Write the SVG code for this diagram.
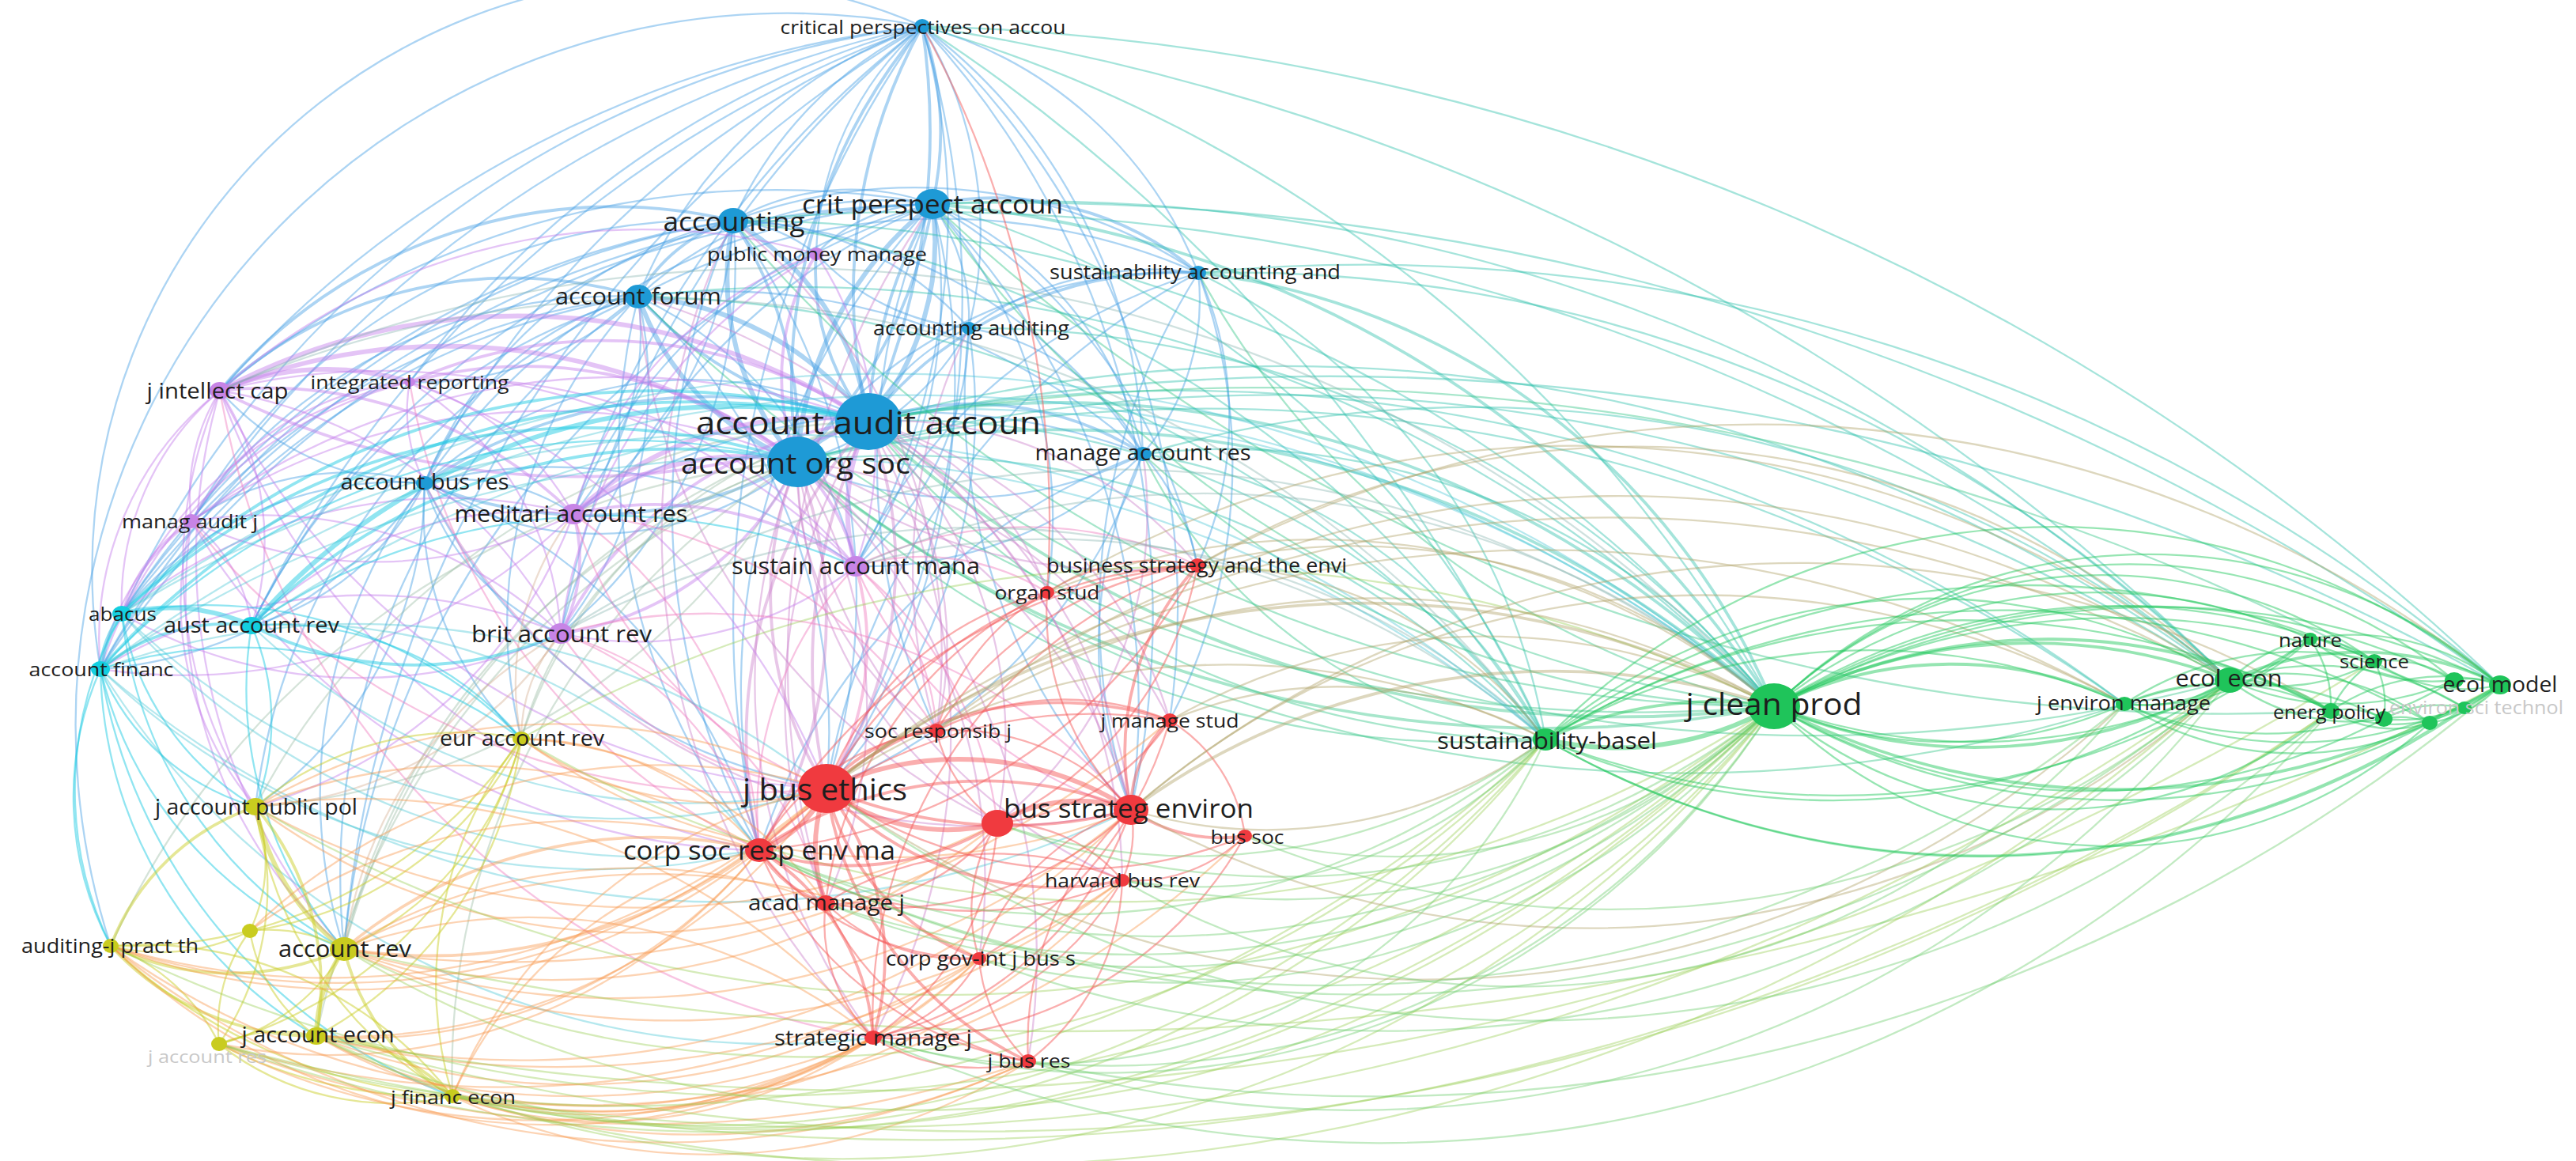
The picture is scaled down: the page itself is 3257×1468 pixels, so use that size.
<svg xmlns="http://www.w3.org/2000/svg" width="3257" height="1468" viewBox="0 0 3257 1468">
<style>
.e path{fill:none;stroke-width:2.3;stroke-linecap:round}
.eb path{stroke:rgba(70,160,228,.45)}
.ebg path{stroke:rgba(40,190,170,.42)}
.ebgg path{stroke:rgba(45,195,130,.42)}
.ebr path{stroke:rgba(205,130,205,.45)}
.eby path{stroke:rgba(150,185,160,.4)}
.ep path{stroke:rgba(195,125,235,.45)}
.erp path{stroke:rgba(240,125,190,.45)}
.epy path{stroke:rgba(210,170,140,.4)}
.epg path{stroke:rgba(130,175,170,.38)}
.ec path{stroke:rgba(25,200,225,.48)}
.ecx path{stroke:rgba(60,195,210,.38)}
.ey path{stroke:rgba(200,205,35,.48)}
.ery path{stroke:rgba(248,150,75,.42)}
.eyg path{stroke:rgba(150,205,80,.4)}
.er path{stroke:rgba(245,85,85,.48)}
.erg path{stroke:rgba(175,160,100,.42)}
.egl path{stroke:rgba(110,205,110,.42)}
.eg path{stroke:rgba(35,200,95,.48)}
.e path.m{stroke-width:3.8}
.e path.k{stroke-width:6}
.nb{fill:#1e9ad6}.np{fill:#c784e6}.nc{fill:#14cfe0}.ny{fill:#c9cc1f}.nr{fill:#f03a3f}.ng{fill:#1fc45a}
text{font-family:"Open Sans","Liberation Sans",sans-serif;fill:#1e1e1e;text-anchor:middle;dominant-baseline:central}
text.f{fill:#c8c8c8}
</style>
<rect width="3257" height="1468" fill="#fff"/>
<g id="connectors" class="e">
<g class="eb">
<path class="m" d="M1166 33A400 400 0 0 1 1179 258"/>
<path d="M1166 33A500 500 0 0 0 927 279"/>
<path d="M1166 33A600 600 0 0 0 807 375"/>
<path d="M1166 33A500 500 0 0 1 1225 415"/>
<path d="M1166 33A520 520 0 0 1 1515 345"/>
<path d="M1166 33A700 700 0 0 1 1445 574"/>
<path class="m" d="M1166 33A700 700 0 0 0 1098 533"/>
<path class="m" d="M1166 33A900 900 0 0 1 1098 533"/>
<path class="m" d="M1166 33A700 700 0 0 0 1008 584"/>
<path d="M1166 33A400 400 0 0 0 1032 321"/>
<path d="M1166 33A1400 1400 0 0 0 278 494"/>
<path d="M1166 33A1300 1300 0 0 0 154 776"/>
<path d="M1166 33A750 750 0 0 0 127 846"/>
<path d="M1166 33A1500 1500 0 0 0 242 659"/>
<path d="M1166 33A1200 1200 0 0 0 537 611"/>
<path d="M1166 33A1300 1300 0 0 0 725 650"/>
<path d="M1166 33A900 900 0 0 1 1082 716"/>
<path d="M1166 33A1300 1300 0 0 0 709 801"/>
<path d="M1166 33A1200 1200 0 0 1 1045 997"/>
<path d="M1166 33A1300 1300 0 0 0 960 1075"/>
<path d="M1166 33A1100 1100 0 0 1 1430 1024"/>
<path d="M1166 33A900 900 0 0 0 140 1196"/>
<path d="M1166 33A1500 1500 0 0 0 318 791"/>
<path d="M1166 33A1500 1500 0 0 0 435 1200"/>
<path d="M1166 33A1000 1000 0 0 1 1479 911"/>
<path d="M1166 33A1200 1200 0 0 0 518 483"/>
<path d="M1179 258A300 300 0 0 0 927 279"/>
<path d="M1179 258A450 450 0 0 0 807 375"/>
<path d="M1179 258A250 250 0 0 1 1225 415"/>
<path class="m" d="M1179 258A400 400 0 0 1 1515 345"/>
<path d="M1179 258A200 200 0 0 0 1032 321"/>
<path class="k" d="M1179 258A350 350 0 0 1 1098 533"/>
<path class="m" d="M1179 258A600 600 0 0 0 1098 533"/>
<path class="k" d="M1179 258A450 450 0 0 0 1008 584"/>
<path class="m" d="M1179 258A600 600 0 0 1 1008 584"/>
<path d="M1179 258A450 450 0 0 1 1445 574"/>
<path d="M1179 258A800 800 0 0 0 537 611"/>
<path d="M1179 258A1100 1100 0 0 0 278 494"/>
<path d="M1179 258A650 650 0 0 0 725 650"/>
<path d="M1179 258A600 600 0 0 1 1082 716"/>
<path d="M1179 258A800 800 0 0 0 709 801"/>
<path d="M1179 258A900 900 0 0 1 1045 997"/>
<path d="M1179 258A900 900 0 0 0 960 1075"/>
<path d="M1179 258A900 900 0 0 1 1430 1024"/>
<path d="M1179 258A1300 1300 0 0 0 154 776"/>
<path d="M1179 258A1300 1300 0 0 0 127 846"/>
<path d="M1179 258A600 600 0 0 1 1324 749"/>
<path d="M1179 258A800 800 0 0 0 1184 924"/>
<path d="M1179 258A1100 1100 0 0 0 435 1200"/>
<path d="M1179 258A700 700 0 0 1 1514 715"/>
<path class="m" d="M927 279A200 200 0 0 0 807 375"/>
<path d="M927 279A200 200 0 0 1 1032 321"/>
<path class="k" d="M927 279A350 350 0 0 1 1098 533"/>
<path class="k" d="M927 279A350 350 0 0 0 1008 584"/>
<path class="m" d="M927 279A650 650 0 0 0 278 494"/>
<path d="M927 279A550 550 0 0 0 537 611"/>
<path d="M927 279A1100 1100 0 0 0 154 776"/>
<path d="M927 279A1100 1100 0 0 0 127 846"/>
<path d="M927 279A1000 1000 0 0 0 318 791"/>
<path d="M927 279A500 500 0 0 1 725 650"/>
<path d="M927 279A600 600 0 0 1 709 801"/>
<path d="M927 279A750 750 0 0 0 242 659"/>
<path d="M927 279A650 650 0 0 1 1515 345"/>
<path d="M927 279A650 650 0 0 1 1445 574"/>
<path d="M927 279A800 800 0 0 1 1045 997"/>
<path d="M927 279A900 900 0 0 0 960 1075"/>
<path d="M927 279A400 400 0 0 1 1225 415"/>
<path class="m" d="M807 375A550 550 0 0 0 278 494"/>
<path d="M807 375A400 400 0 0 0 537 611"/>
<path d="M807 375A650 650 0 0 0 242 659"/>
<path d="M807 375A350 350 0 0 1 725 650"/>
<path d="M807 375A500 500 0 0 1 709 801"/>
<path d="M807 375A900 900 0 0 0 154 776"/>
<path d="M807 375A800 800 0 0 0 318 791"/>
<path d="M807 375A950 950 0 0 0 127 846"/>
<path d="M807 375A500 500 0 0 1 1082 716"/>
<path d="M807 375A400 400 0 0 1 518 483"/>
<path d="M807 375A800 800 0 0 0 323 1020"/>
<path d="M807 375A600 600 0 0 0 659 934"/>
<path class="k" d="M807 375A400 400 0 0 1 1098 533"/>
<path class="k" d="M807 375A350 350 0 0 0 1008 584"/>
<path d="M807 375A800 800 0 0 1 1515 345"/>
<path d="M807 375A800 800 0 0 1 1445 574"/>
<path d="M807 375A750 750 0 0 1 1045 997"/>
<path d="M807 375A800 800 0 0 0 960 1075"/>
<path d="M807 375A900 900 0 0 0 435 1200"/>
<path d="M1515 345A400 400 0 0 0 1225 415"/>
<path d="M1515 345A300 300 0 0 1 1445 574"/>
<path class="m" d="M1515 345A500 500 0 0 0 1098 533"/>
<path d="M1515 345A600 600 0 0 0 1008 584"/>
<path d="M1515 345A450 450 0 0 1 1514 715"/>
<path d="M1515 345A700 700 0 0 1 1479 911"/>
<path d="M1515 345A800 800 0 0 0 1430 1024"/>
<path d="M1515 345A700 700 0 0 0 1082 716"/>
<path d="M1515 345A900 900 0 0 0 1045 997"/>
<path class="m" d="M1445 574A400 400 0 0 0 1098 533"/>
<path d="M1445 574A500 500 0 0 1 1008 584"/>
<path d="M1445 574A300 300 0 0 0 1225 415"/>
<path d="M1445 574A550 550 0 0 0 1430 1024"/>
<path d="M1445 574A700 700 0 0 1 1045 997"/>
<path d="M1445 574A800 800 0 0 0 960 1075"/>
<path d="M1445 574A500 500 0 0 1 1082 716"/>
<path d="M1445 574A300 300 0 0 1 1514 715"/>
<path d="M1445 574A800 800 0 0 0 725 650"/>
<path d="M1225 415A250 250 0 0 0 1098 533"/>
<path d="M1225 415A350 350 0 0 1 1008 584"/>
<path d="M1225 415A300 300 0 0 1 1032 321"/>
<path d="M1225 415A400 400 0 0 1 1082 716"/>
<path d="M1225 415A700 700 0 0 1 1045 997"/>
<path d="M1225 415A750 750 0 0 0 1430 1024"/>
<path class="m" d="M537 611A650 650 0 0 1 1098 533"/>
<path class="m" d="M537 611A550 550 0 0 0 1008 584"/>
<path d="M537 611A350 350 0 0 1 278 494"/>
<path d="M537 611A350 350 0 0 0 242 659"/>
<path d="M537 611A450 450 0 0 0 154 776"/>
<path d="M537 611A350 350 0 0 1 318 791"/>
<path d="M537 611A550 550 0 0 1 127 846"/>
<path d="M537 611A250 250 0 0 1 725 650"/>
<path d="M537 611A300 300 0 0 0 709 801"/>
<path d="M537 611A700 700 0 0 0 1045 997"/>
<path d="M537 611A700 700 0 0 1 960 1075"/>
<path d="M537 611A650 650 0 0 0 435 1200"/>
<path d="M537 611A500 500 0 0 1 323 1020"/>
<path d="M537 611A400 400 0 0 0 659 934"/>
<path d="M537 611A650 650 0 0 1 1082 716"/>
<path class="k" d="M1098 533A150 150 0 0 0 1008 584"/>
<path class="m" d="M1098 533A300 300 0 0 1 1032 321"/>
<path class="m" d="M1098 533A500 500 0 0 1 807 375"/>
<path class="m" d="M1008 584A500 500 0 0 0 927 279"/>
<path d="M1098 533A500 500 0 0 0 537 611"/>
<path d="M1008 584A400 400 0 0 1 537 611"/>
</g>
<g class="ebg">
<path d="M1166 33A1800 1800 0 0 1 2243 893"/>
<path d="M1166 33A2200 2200 0 0 1 1954 935"/>
<path d="M1166 33A3000 3000 0 0 1 2819 860"/>
<path d="M1166 33A3000 3000 0 0 1 3161 866"/>
<path class="m" d="M1179 258A1400 1400 0 0 1 2243 893"/>
<path d="M1179 258A1200 1200 0 0 1 1954 935"/>
<path d="M1179 258A2200 2200 0 0 1 2819 860"/>
<path d="M1179 258A3200 3200 0 0 1 3161 866"/>
<path d="M927 279A1700 1700 0 0 1 2243 893"/>
<path d="M927 279A1400 1400 0 0 1 1954 935"/>
<path d="M927 279A2600 2600 0 0 1 2819 860"/>
<path d="M807 375A1700 1700 0 0 1 2243 893"/>
<path d="M807 375A1500 1500 0 0 1 1954 935"/>
<path class="m" d="M1515 345A900 900 0 0 1 2243 893"/>
<path d="M1515 345A800 800 0 0 1 1954 935"/>
<path d="M1515 345A1800 1800 0 0 1 2819 860"/>
<path d="M1515 345A2200 2200 0 0 1 3161 866"/>
<path d="M1445 574A900 900 0 0 1 2243 893"/>
<path d="M1445 574A700 700 0 0 1 1954 935"/>
<path d="M1445 574A1500 1500 0 0 1 2819 860"/>
<path d="M1225 415A1300 1300 0 0 1 2243 893"/>
<path class="m" d="M1098 533A1250 1250 0 0 1 2243 893"/>
<path d="M1098 533A1000 1000 0 0 1 1954 935"/>
<path d="M1098 533A2000 2000 0 0 1 2819 860"/>
<path d="M1098 533A2000 2000 0 0 1 2686 890"/>
<path d="M1098 533A3000 3000 0 0 1 3161 866"/>
<path class="m" d="M1008 584A1350 1350 0 0 1 2243 893"/>
<path d="M1008 584A1100 1100 0 0 1 1954 935"/>
<path d="M1008 584A2200 2200 0 0 1 2819 860"/>
<path d="M1008 584A2000 2000 0 0 1 2686 890"/>
</g>
<g class="ebgg">
<path class="m" d="M2243 893A1400 1400 0 0 1 1098 533"/>
<path class="m" d="M2243 893A1500 1500 0 0 1 1008 584"/>
<path d="M2243 893A1200 1200 0 0 1 1445 574"/>
<path d="M2243 893A1500 1500 0 0 1 1179 258"/>
<path d="M2243 893A1700 1700 0 0 1 927 279"/>
<path d="M2243 893A1800 1800 0 0 1 807 375"/>
<path d="M2243 893A1100 1100 0 0 1 1515 345"/>
<path d="M1954 935A650 650 0 0 1 1445 574"/>
<path d="M1954 935A1100 1100 0 0 1 1098 533"/>
<path d="M1954 935A1200 1200 0 0 1 1008 584"/>
<path d="M3002 836A3000 3000 0 0 0 1098 533"/>
<path d="M2686 890A1800 1800 0 0 1 1008 584"/>
<path d="M2819 860A2000 2000 0 0 1 1098 533"/>
<path d="M2947 899A2400 2400 0 0 1 1179 258"/>
</g>
<g class="ebr">
<path class="m" d="M1098 533A500 500 0 0 1 1045 997"/>
<path class="m" d="M1098 533A700 700 0 0 0 1045 997"/>
<path class="m" d="M1098 533A600 600 0 0 0 960 1075"/>
<path d="M1098 533A650 650 0 0 1 1430 1024"/>
<path d="M1098 533A450 450 0 0 1 1184 924"/>
<path d="M1098 533A650 650 0 0 0 1044 1142"/>
<path d="M1098 533A800 800 0 0 1 1104 1312"/>
<path d="M1098 533A550 550 0 0 1 1261 1041"/>
<path d="M1098 533A550 550 0 0 1 1479 911"/>
<path d="M1098 533A500 500 0 0 1 1514 715"/>
<path d="M1098 533A350 350 0 0 1 1324 749"/>
<path d="M1098 533A700 700 0 0 1 1419 1113"/>
<path class="m" d="M1008 584A450 450 0 0 0 1045 997"/>
<path class="m" d="M1008 584A550 550 0 0 1 960 1075"/>
<path d="M1008 584A650 650 0 0 1 1430 1024"/>
<path d="M1008 584A400 400 0 0 0 1184 924"/>
<path d="M1008 584A600 600 0 0 1 1044 1142"/>
<path d="M1008 584A750 750 0 0 0 1104 1312"/>
<path d="M1008 584A700 700 0 0 0 1419 1113"/>
<path d="M1008 584A700 700 0 0 1 1238 1212"/>
<path d="M1008 584A550 550 0 0 0 1261 1041"/>
<path d="M1008 584A600 600 0 0 1 1479 911"/>
<path d="M1008 584A800 800 0 0 1 1300 1342"/>
<path d="M1008 584A700 700 0 0 0 1514 715"/>
<path d="M927 279A900 900 0 0 0 1104 1312"/>
<path d="M807 375A900 900 0 0 1 1430 1024"/>
<path d="M1179 258A1000 1000 0 0 0 1044 1142"/>
<path d="M1225 415A700 700 0 0 0 1184 924"/>
<path d="M1445 574A500 500 0 0 1 1261 1041"/>
<path d="M807 375A800 800 0 0 0 1261 1041"/>
<path d="M927 279A700 700 0 0 1 1184 924"/>
<path d="M537 611A800 800 0 0 0 1430 1024"/>
</g>
<g class="eby">
<path d="M1098 533A950 950 0 0 0 435 1200"/>
<path d="M1098 533A600 600 0 0 0 659 934"/>
<path d="M1098 533A900 900 0 0 0 323 1020"/>
<path d="M1008 584A850 850 0 0 0 435 1200"/>
<path d="M1008 584A500 500 0 0 0 659 934"/>
<path d="M1008 584A850 850 0 0 1 323 1020"/>
<path d="M1008 584A1000 1000 0 0 0 400 1310"/>
<path d="M1008 584A1050 1050 0 0 0 140 1196"/>
<path d="M1008 584A900 900 0 0 0 572 1386"/>
</g>
<g class="ep">
<path class="k" d="M278 494A350 350 0 0 1 518 483"/>
<path d="M278 494A250 250 0 0 0 242 659"/>
<path class="m" d="M278 494A550 550 0 0 1 725 650"/>
<path d="M278 494A350 350 0 0 0 154 776"/>
<path d="M278 494A400 400 0 0 0 127 846"/>
<path d="M278 494A350 350 0 0 1 318 791"/>
<path d="M278 494A600 600 0 0 1 709 801"/>
<path d="M278 494A850 850 0 0 1 1082 716"/>
<path class="k" d="M278 494A800 800 0 0 1 1098 533"/>
<path class="k" d="M278 494A750 750 0 0 1 1008 584"/>
<path class="m" d="M278 494A1000 1000 0 0 0 1098 533"/>
<path d="M278 494A900 900 0 0 0 1045 997"/>
<path d="M278 494A900 900 0 0 0 960 1075"/>
<path d="M278 494A550 550 0 0 0 323 1020"/>
<path d="M278 494A750 750 0 0 0 435 1200"/>
<path d="M518 483A350 350 0 0 1 725 650"/>
<path class="m" d="M518 483A600 600 0 0 1 1098 533"/>
<path class="m" d="M518 483A550 550 0 0 1 1008 584"/>
<path d="M518 483A350 350 0 0 0 242 659"/>
<path d="M518 483A650 650 0 0 1 1082 716"/>
<path d="M518 483A400 400 0 0 1 709 801"/>
<path d="M518 483A500 500 0 0 0 154 776"/>
<path d="M518 483A550 550 0 0 0 127 846"/>
<path d="M518 483A200 200 0 0 0 537 611"/>
<path d="M518 483A900 900 0 0 1 1045 997"/>
<path d="M242 659A550 550 0 0 0 725 650"/>
<path d="M242 659A200 200 0 0 0 154 776"/>
<path d="M242 659A300 300 0 0 0 127 846"/>
<path d="M242 659A200 200 0 0 1 318 791"/>
<path d="M242 659A550 550 0 0 1 709 801"/>
<path d="M242 659A800 800 0 0 1 1008 584"/>
<path d="M242 659A900 900 0 0 1 1098 533"/>
<path d="M242 659A400 400 0 0 0 323 1020"/>
<path d="M242 659A600 600 0 0 0 435 1200"/>
<path d="M242 659A850 850 0 0 0 960 1075"/>
<path class="m" d="M725 650A450 450 0 0 1 1082 716"/>
<path class="m" d="M725 650A200 200 0 0 1 709 801"/>
<path class="k" d="M725 650A450 450 0 0 1 1098 533"/>
<path class="k" d="M725 650A350 350 0 0 1 1008 584"/>
<path d="M725 650A650 650 0 0 0 154 776"/>
<path d="M725 650A500 500 0 0 0 318 791"/>
<path d="M725 650A700 700 0 0 1 127 846"/>
<path d="M725 650A600 600 0 0 1 323 1020"/>
<path class="k" d="M1082 716A250 250 0 0 1 1098 533"/>
<path class="m" d="M1082 716A250 250 0 0 0 1008 584"/>
<path d="M1082 716A450 450 0 0 1 709 801"/>
<path class="m" d="M1032 321A300 300 0 0 0 1008 584"/>
<path d="M1032 321A450 450 0 0 1 1082 716"/>
<path d="M1032 321A500 500 0 0 0 725 650"/>
<path d="M1032 321A800 800 0 0 0 278 494"/>
<path d="M1032 321A650 650 0 0 0 709 801"/>
<path class="m" d="M709 801A500 500 0 0 1 1098 533"/>
<path class="m" d="M709 801A400 400 0 0 0 1008 584"/>
<path d="M709 801A600 600 0 0 1 154 776"/>
<path d="M709 801A650 650 0 0 0 127 846"/>
</g>
<g class="erp">
<path d="M725 650A550 550 0 0 0 1045 997"/>
<path d="M725 650A550 550 0 0 1 960 1075"/>
<path d="M725 650A600 600 0 0 1 1184 924"/>
<path class="m" d="M1082 716A350 350 0 0 1 1045 997"/>
<path d="M1082 716A450 450 0 0 0 960 1075"/>
<path d="M1082 716A550 550 0 0 0 1430 1024"/>
<path d="M1082 716A300 300 0 0 1 1184 924"/>
<path d="M1082 716A300 300 0 0 1 1324 749"/>
<path d="M1082 716A500 500 0 0 1 1514 715"/>
<path d="M1082 716A500 500 0 0 1 1261 1041"/>
<path d="M709 801A450 450 0 0 0 1045 997"/>
<path d="M709 801A400 400 0 0 1 960 1075"/>
<path d="M709 801A700 700 0 0 1 1430 1024"/>
<path d="M709 801A500 500 0 0 1 1044 1142"/>
<path d="M278 494A1000 1000 0 0 0 1104 1312"/>
<path d="M518 483A800 800 0 0 0 960 1075"/>
<path d="M242 659A900 900 0 0 0 1045 997"/>
</g>
<g class="epy">
<path d="M725 650A350 350 0 0 0 659 934"/>
<path d="M709 801A200 200 0 0 0 659 934"/>
<path d="M709 801A500 500 0 0 1 323 1020"/>
<path d="M709 801A550 550 0 0 0 435 1200"/>
</g>
<g class="epg">
<path d="M278 494A1400 1400 0 0 1 1954 935"/>
<path d="M278 494A1700 1700 0 0 1 2243 893"/>
<path d="M1082 716A1100 1100 0 0 1 2243 893"/>
<path d="M1082 716A900 900 0 0 1 1954 935"/>
<path d="M709 801A1100 1100 0 0 1 1954 935"/>
<path d="M709 801A1300 1300 0 0 1 2243 893"/>
</g>
<g class="ec">
<path class="k" d="M154 776A250 250 0 0 1 318 791"/>
<path class="k" d="M154 776A150 150 0 0 0 127 846"/>
<path class="m" d="M154 776A950 950 0 0 1 1098 533"/>
<path class="m" d="M154 776A850 850 0 0 1 1008 584"/>
<path d="M154 776A350 350 0 0 0 323 1020"/>
<path d="M154 776A550 550 0 0 0 435 1200"/>
<path d="M154 776A550 550 0 0 1 659 934"/>
<path d="M154 776A450 450 0 0 0 140 1196"/>
<path class="m" d="M318 791A250 250 0 0 0 127 846"/>
<path d="M318 791A300 300 0 0 1 323 1020"/>
<path d="M318 791A500 500 0 0 0 435 1200"/>
<path d="M318 791A400 400 0 0 1 659 934"/>
<path class="k" d="M318 791A800 800 0 0 1 1098 533"/>
<path class="m" d="M318 791A750 750 0 0 1 1008 584"/>
<path d="M318 791A800 800 0 0 1 1082 716"/>
<path class="m" d="M318 791A450 450 0 0 0 709 801"/>
<path d="M127 846A300 300 0 0 0 323 1020"/>
<path d="M127 846A500 500 0 0 0 435 1200"/>
<path d="M127 846A400 400 0 0 0 140 1196"/>
<path d="M127 846A600 600 0 0 1 659 934"/>
<path class="m" d="M127 846A1000 1000 0 0 1 1098 533"/>
<path d="M127 846A900 900 0 0 1 1008 584"/>
<path d="M127 846A550 550 0 0 0 400 1310"/>
<path d="M127 846A700 700 0 0 0 572 1386"/>
</g>
<g class="ecx">
<path d="M154 776A900 900 0 0 0 960 1075"/>
<path d="M154 776A900 900 0 0 0 1045 997"/>
<path d="M154 776A1700 1700 0 0 1 2243 893"/>
<path d="M154 776A1500 1500 0 0 1 1954 935"/>
<path d="M318 791A800 800 0 0 0 1045 997"/>
<path d="M318 791A750 750 0 0 1 960 1075"/>
<path d="M318 791A1600 1600 0 0 1 2243 893"/>
<path d="M127 846A900 900 0 0 0 960 1075"/>
<path d="M127 846A950 950 0 0 1 1045 997"/>
<path d="M127 846A1700 1700 0 0 1 2243 893"/>
<path d="M127 846A1500 1500 0 0 1 1954 935"/>
<path d="M127 846A1200 1200 0 0 0 1430 1024"/>
<path d="M127 846A1000 1000 0 0 0 1104 1312"/>
</g>
<g class="ey">
<path class="k" d="M435 1200A300 300 0 0 1 323 1020"/>
<path d="M435 1200A200 200 0 0 0 316 1177"/>
<path class="m" d="M435 1200A350 350 0 0 1 140 1196"/>
<path class="k" d="M435 1200A200 200 0 0 0 400 1310"/>
<path d="M435 1200A250 250 0 0 1 277 1320"/>
<path class="m" d="M435 1200A300 300 0 0 0 572 1386"/>
<path d="M435 1200A400 400 0 0 0 659 934"/>
<path class="m" d="M400 1310A350 350 0 0 1 140 1196"/>
<path d="M400 1310A200 200 0 0 0 277 1320"/>
<path class="m" d="M400 1310A250 250 0 0 1 572 1386"/>
<path class="m" d="M400 1310A350 350 0 0 0 323 1020"/>
<path d="M400 1310A200 200 0 0 1 316 1177"/>
<path d="M400 1310A500 500 0 0 0 659 934"/>
<path class="m" d="M140 1196A300 300 0 0 1 323 1020"/>
<path d="M140 1196A250 250 0 0 0 316 1177"/>
<path d="M140 1196A250 250 0 0 1 277 1320"/>
<path d="M140 1196A500 500 0 0 1 572 1386"/>
<path d="M140 1196A600 600 0 0 0 659 934"/>
<path d="M323 1020A200 200 0 0 1 316 1177"/>
<path d="M323 1020A400 400 0 0 1 659 934"/>
<path d="M323 1020A500 500 0 0 0 572 1386"/>
<path d="M323 1020A350 350 0 0 1 277 1320"/>
<path d="M572 1386A350 350 0 0 1 277 1320"/>
<path d="M572 1386A500 500 0 0 1 659 934"/>
<path d="M277 1320A200 200 0 0 1 316 1177"/>
<path d="M277 1320A550 550 0 0 0 659 934"/>
<path d="M659 934A450 450 0 0 1 316 1177"/>
<path d="M140 1196A700 700 0 0 0 572 1386"/>
<path d="M277 1320A600 600 0 0 0 572 1386"/>
</g>
<g class="ery">
<path class="m" d="M435 1200A600 600 0 0 1 960 1075"/>
<path class="m" d="M435 1200A700 700 0 0 0 1045 997"/>
<path d="M435 1200A700 700 0 0 1 1104 1312"/>
<path d="M435 1200A700 700 0 0 1 1044 1142"/>
<path d="M435 1200A850 850 0 0 1 1238 1212"/>
<path d="M435 1200A1000 1000 0 0 0 1430 1024"/>
<path d="M400 1310A650 650 0 0 0 960 1075"/>
<path d="M400 1310A750 750 0 0 0 1045 997"/>
<path d="M400 1310A750 750 0 0 0 1104 1312"/>
<path d="M140 1196A850 850 0 0 0 960 1075"/>
<path d="M140 1196A950 950 0 0 0 1045 997"/>
<path d="M140 1196A1000 1000 0 0 0 1104 1312"/>
<path d="M323 1020A700 700 0 0 1 960 1075"/>
<path d="M323 1020A750 750 0 0 1 1045 997"/>
<path d="M323 1020A850 850 0 0 1 1104 1312"/>
<path d="M572 1386A600 600 0 0 0 1104 1312"/>
<path d="M572 1386A550 550 0 0 1 960 1075"/>
<path d="M572 1386A650 650 0 0 1 1045 997"/>
<path d="M572 1386A750 750 0 0 0 1300 1342"/>
<path d="M572 1386A700 700 0 0 0 1238 1212"/>
<path d="M659 934A400 400 0 0 1 960 1075"/>
<path d="M659 934A450 450 0 0 0 1045 997"/>
<path d="M659 934A500 500 0 0 1 1044 1142"/>
<path d="M659 934A800 800 0 0 0 1430 1024"/>
<path d="M316 1177A700 700 0 0 1 960 1075"/>
<path d="M316 1177A750 750 0 0 1 1045 997"/>
<path d="M1300 1342A1500 1500 0 0 1 277 1320"/>
<path d="M1104 1312A900 900 0 0 1 277 1320"/>
<path d="M1104 1312A700 700 0 0 1 400 1310"/>
<path d="M1238 1212A900 900 0 0 1 400 1310"/>
<path d="M1300 1342A1000 1000 0 0 1 572 1386"/>
<path d="M1419 1113A1000 1000 0 0 1 435 1200"/>
<path d="M1430 1024A1100 1100 0 0 1 400 1310"/>
<path d="M1045 997A900 900 0 0 1 140 1196"/>
<path d="M960 1075A700 700 0 0 1 277 1320"/>
<path d="M1261 1041A1000 1000 0 0 1 323 1020"/>
<path d="M1479 911A1300 1300 0 0 1 435 1200"/>
<path d="M1574 1057A1200 1200 0 0 1 572 1386"/>
<path d="M1238 1212A800 800 0 0 1 140 1196"/>
<path d="M140 1196A1100 1100 0 0 0 1300 1342"/>
<path d="M277 1320A1200 1200 0 0 0 1238 1212"/>
<path d="M400 1310A1200 1200 0 0 0 1419 1113"/>
<path d="M572 1386A900 900 0 0 0 1419 1113"/>
<path d="M1044 1142A800 800 0 0 1 323 1020"/>
<path d="M1261 1041A900 900 0 0 1 435 1200"/>
</g>
<g class="eyg">
<path d="M435 1200A1400 1400 0 0 0 2243 893"/>
<path d="M435 1200A1300 1300 0 0 0 1954 935"/>
<path d="M400 1310A1500 1500 0 0 0 2243 893"/>
<path d="M400 1310A1300 1300 0 0 0 1954 935"/>
<path d="M400 1310A3000 3000 0 0 0 2947 899"/>
<path d="M140 1196A1900 1900 0 0 0 2243 893"/>
<path d="M323 1020A1700 1700 0 0 0 2243 893"/>
<path d="M572 1386A1800 1800 0 0 0 2243 893"/>
<path d="M572 1386A1400 1400 0 0 0 1954 935"/>
<path d="M572 1386A2400 2400 0 0 0 2819 860"/>
<path d="M277 1320A1900 1900 0 0 0 2243 893"/>
<path d="M277 1320A3000 3000 0 0 0 2819 860"/>
<path d="M277 1320A1700 1700 0 0 0 1954 935"/>
<path d="M3161 866A4000 4000 0 0 1 435 1200"/>
<path d="M3002 836A3600 3600 0 0 1 400 1310"/>
<path d="M2947 899A3200 3200 0 0 1 572 1386"/>
<path d="M2243 893A1700 1700 0 0 0 659 934"/>
<path d="M2243 893A1500 1500 0 0 1 659 934"/>
</g>
<g class="er">
<path class="k" d="M1045 997A150 150 0 0 1 960 1075"/>
<path class="k" d="M1045 997A200 200 0 0 0 1044 1142"/>
<path class="m" d="M1045 997A200 200 0 0 1 1184 924"/>
<path class="m" d="M1045 997A450 450 0 0 1 1479 911"/>
<path class="k" d="M1045 997A400 400 0 0 1 1430 1024"/>
<path class="m" d="M1045 997A600 600 0 0 0 1430 1024"/>
<path class="k" d="M1045 997A250 250 0 0 0 1261 1041"/>
<path d="M1045 997A550 550 0 0 0 1574 1057"/>
<path class="m" d="M1045 997A400 400 0 0 0 1419 1113"/>
<path class="m" d="M1045 997A300 300 0 0 0 1238 1212"/>
<path class="m" d="M1045 997A350 350 0 0 1 1104 1312"/>
<path class="m" d="M1045 997A450 450 0 0 0 1300 1342"/>
<path d="M1045 997A550 550 0 0 1 1514 715"/>
<path d="M1045 997A400 400 0 0 1 1324 749"/>
<path class="m" d="M960 1075A150 150 0 0 0 1044 1142"/>
<path class="m" d="M960 1075A300 300 0 0 1 1104 1312"/>
<path class="m" d="M960 1075A500 500 0 0 1 1430 1024"/>
<path class="m" d="M960 1075A350 350 0 0 0 1261 1041"/>
<path d="M960 1075A300 300 0 0 1 1184 924"/>
<path d="M960 1075A350 350 0 0 0 1238 1212"/>
<path d="M960 1075A450 450 0 0 0 1300 1342"/>
<path d="M960 1075A500 500 0 0 0 1419 1113"/>
<path d="M960 1075A600 600 0 0 1 1479 911"/>
<path d="M960 1075A700 700 0 0 1 1514 715"/>
<path class="k" d="M1430 1024A200 200 0 0 0 1261 1041"/>
<path class="m" d="M1430 1024A150 150 0 0 1 1479 911"/>
<path class="m" d="M1430 1024A200 200 0 0 0 1574 1057"/>
<path d="M1430 1024A150 150 0 0 1 1419 1113"/>
<path class="m" d="M1430 1024A350 350 0 0 1 1514 715"/>
<path d="M1430 1024A300 300 0 0 0 1184 924"/>
<path d="M1430 1024A350 350 0 0 1 1324 749"/>
<path d="M1430 1024A300 300 0 0 0 1238 1212"/>
<path d="M1430 1024A450 450 0 0 1 1104 1312"/>
<path d="M1430 1024A400 400 0 0 0 1300 1342"/>
<path d="M1430 1024A450 450 0 0 1 1044 1142"/>
<path d="M1261 1041A200 200 0 0 1 1419 1113"/>
<path d="M1261 1041A300 300 0 0 0 1479 911"/>
<path d="M1261 1041A200 200 0 0 1 1184 924"/>
<path d="M1261 1041A200 200 0 0 0 1238 1212"/>
<path d="M1261 1041A350 350 0 0 1 1104 1312"/>
<path d="M1261 1041A250 250 0 0 1 1044 1142"/>
<path d="M1261 1041A450 450 0 0 0 1514 715"/>
<path d="M1104 1312A200 200 0 0 1 1044 1142"/>
<path d="M1104 1312A200 200 0 0 0 1238 1212"/>
<path d="M1104 1312A250 250 0 0 0 1300 1342"/>
<path d="M1104 1312A400 400 0 0 0 1419 1113"/>
<path d="M1300 1342A300 300 0 0 0 1419 1113"/>
<path d="M1300 1342A200 200 0 0 1 1238 1212"/>
<path d="M1300 1342A350 350 0 0 1 1044 1142"/>
<path d="M1184 924A350 350 0 0 1 1479 911"/>
<path d="M1184 924A300 300 0 0 1 1324 749"/>
<path d="M1184 924A450 450 0 0 1 1514 715"/>
<path d="M1574 1057A200 200 0 0 1 1419 1113"/>
<path d="M1574 1057A200 200 0 0 0 1479 911"/>
<path d="M1044 1142A250 250 0 0 0 1238 1212"/>
<path d="M1044 1142A400 400 0 0 1 1419 1113"/>
<path d="M1324 749A250 250 0 0 1 1514 715"/>
<path d="M1166 33A1300 1300 0 0 1 1324 749"/>
<path d="M1574 1057A500 500 0 0 1 1104 1312"/>
<path d="M1514 715A600 600 0 0 0 1104 1312"/>
<path d="M1479 911A500 500 0 0 1 1238 1212"/>
<path d="M1324 749A500 500 0 0 0 1044 1142"/>
<path d="M1514 715A700 700 0 0 1 960 1075"/>
</g>
<g class="erg">
<path class="m" d="M2243 893A900 900 0 0 0 1430 1024"/>
<path class="m" d="M2243 893A1100 1100 0 0 0 1045 997"/>
<path d="M2243 893A800 800 0 0 0 1479 911"/>
<path d="M2243 893A800 800 0 0 0 1514 715"/>
<path d="M2243 893A1000 1000 0 0 0 1184 924"/>
<path d="M2243 893A900 900 0 0 0 1324 749"/>
<path d="M1954 935A900 900 0 0 0 1045 997"/>
<path d="M1954 935A600 600 0 0 1 1430 1024"/>
<path d="M1954 935A550 550 0 0 0 1514 715"/>
<path d="M1954 935A550 550 0 0 0 1479 911"/>
<path d="M2819 860A1600 1600 0 0 0 1045 997"/>
<path d="M2819 860A1200 1200 0 0 1 1430 1024"/>
<path d="M2686 890A1300 1300 0 0 1 1045 997"/>
<path d="M2686 890A1100 1100 0 0 0 1430 1024"/>
<path d="M2947 899A1300 1300 0 0 0 1430 1024"/>
<path d="M1514 715A1100 1100 0 0 1 2819 860"/>
<path d="M1514 715A1500 1500 0 0 1 3161 866"/>
<path d="M1324 749A1300 1300 0 0 1 2819 860"/>
<path d="M1184 924A1400 1400 0 0 1 2819 860"/>
<path d="M1045 997A1500 1500 0 0 1 2686 890"/>
</g>
<g class="egl">
<path d="M2243 893A1000 1000 0 0 1 1261 1041"/>
<path d="M2243 893A1200 1200 0 0 1 960 1075"/>
<path d="M2243 893A700 700 0 0 1 1574 1057"/>
<path d="M2243 893A900 900 0 0 1 1419 1113"/>
<path d="M2243 893A1000 1000 0 0 1 1300 1342"/>
<path d="M2243 893A1100 1100 0 0 1 1044 1142"/>
<path d="M2243 893A1000 1000 0 0 1 1238 1212"/>
<path d="M1954 935A750 750 0 0 1 1261 1041"/>
<path d="M1954 935A950 950 0 0 1 960 1075"/>
<path d="M1954 935A600 600 0 0 1 1419 1113"/>
<path d="M1954 935A700 700 0 0 1 1104 1312"/>
<path d="M2819 860A1700 1700 0 0 1 960 1075"/>
<path d="M2947 899A1500 1500 0 0 1 1045 997"/>
<path d="M1104 1312A1000 1000 0 0 0 2243 893"/>
<path d="M1300 1342A1400 1400 0 0 0 2819 860"/>
<path d="M1300 1342A2200 2200 0 0 0 3161 866"/>
<path d="M1044 1142A1200 1200 0 0 0 2243 893"/>
<path d="M1238 1212A1500 1500 0 0 0 2819 860"/>
<path d="M1574 1057A1200 1200 0 0 0 2819 860"/>
<path d="M1419 1113A1000 1000 0 0 0 2686 890"/>
<path d="M960 1075A1600 1600 0 0 0 2686 890"/>
<path d="M1104 1312A1600 1600 0 0 0 2947 899"/>
</g>
<g class="eg">
<path class="k" d="M2243 893A400 400 0 0 1 1954 935"/>
<path class="m" d="M2243 893A500 500 0 0 0 1954 935"/>
<path class="m" d="M2243 893A500 500 0 0 1 2686 890"/>
<path d="M2243 893A550 550 0 0 0 2686 890"/>
<path class="m" d="M2243 893A650 650 0 0 0 2819 860"/>
<path class="m" d="M2243 893A700 700 0 0 1 2819 860"/>
<path d="M2243 893A750 750 0 0 0 2921 808"/>
<path d="M2243 893A650 650 0 0 1 2921 808"/>
<path d="M2243 893A800 800 0 0 1 3002 836"/>
<path d="M2243 893A600 600 0 0 1 3002 836"/>
<path class="m" d="M2243 893A950 950 0 0 0 3161 866"/>
<path d="M2243 893A680 680 0 0 1 3161 866"/>
<path d="M2243 893A900 900 0 0 1 3103 860"/>
<path d="M2243 893A650 650 0 0 1 3103 860"/>
<path d="M2243 893A900 900 0 0 1 3116 895"/>
<path d="M2243 893A850 850 0 0 0 3072 914"/>
<path d="M2243 893A600 600 0 0 0 3072 914"/>
<path class="m" d="M2243 893A750 750 0 0 1 2947 899"/>
<path d="M2243 893A550 550 0 0 0 2947 899"/>
<path d="M2243 893A800 800 0 0 0 3014 909"/>
<path d="M2243 893A1000 1000 0 0 1 3161 866"/>
<path d="M1954 935A800 800 0 0 1 2686 890"/>
<path d="M1954 935A900 900 0 0 0 2819 860"/>
<path d="M1954 935A750 750 0 0 1 2819 860"/>
<path d="M1954 935A1000 1000 0 0 1 2947 899"/>
<path d="M1954 935A1100 1100 0 0 0 3161 866"/>
<path d="M1954 935A900 900 0 0 1 3161 866"/>
<path d="M1954 935A1000 1000 0 0 0 2921 808"/>
<path d="M1954 935A1050 1050 0 0 1 3002 836"/>
<path d="M1954 935A1100 1100 0 0 1 3072 914"/>
<path d="M1954 935A1100 1100 0 0 0 3116 895"/>
<path d="M2819 860A200 200 0 0 1 2921 808"/>
<path d="M2819 860A250 250 0 0 0 3002 836"/>
<path class="m" d="M2819 860A400 400 0 0 1 3161 866"/>
<path d="M2819 860A350 350 0 0 0 3103 860"/>
<path d="M2819 860A350 350 0 0 1 3116 895"/>
<path d="M2819 860A300 300 0 0 1 3072 914"/>
<path d="M2819 860A200 200 0 0 1 2947 899"/>
<path d="M2819 860A250 250 0 0 0 3014 909"/>
<path d="M2819 860A200 200 0 0 1 2686 890"/>
<path d="M2686 890A300 300 0 0 0 2921 808"/>
<path d="M2686 890A400 400 0 0 1 3002 836"/>
<path d="M2686 890A500 500 0 0 0 3161 866"/>
<path d="M2686 890A300 300 0 0 1 2947 899"/>
<path d="M2686 890A400 400 0 0 1 3014 909"/>
<path d="M2686 890A400 400 0 0 0 3072 914"/>
<path d="M2686 890A450 450 0 0 0 3103 860"/>
<path d="M2921 808A150 150 0 0 1 3002 836"/>
<path d="M2921 808A300 300 0 0 1 3161 866"/>
<path d="M2921 808A250 250 0 0 0 3103 860"/>
<path d="M2921 808A150 150 0 0 1 2947 899"/>
<path d="M3002 836A200 200 0 0 0 3161 866"/>
<path d="M3002 836A150 150 0 0 1 3103 860"/>
<path d="M3002 836A150 150 0 0 0 2947 899"/>
<path d="M3002 836A120 120 0 0 1 3014 909"/>
<path d="M2947 899A100 100 0 0 1 3014 909"/>
<path d="M2947 899A150 150 0 0 0 3072 914"/>
<path d="M2947 899A250 250 0 0 1 3161 866"/>
<path d="M2947 899A200 200 0 0 0 3116 895"/>
<path d="M3014 909A100 100 0 0 1 3072 914"/>
<path d="M3014 909A200 200 0 0 0 3161 866"/>
<path d="M3014 909A150 150 0 0 1 3116 895"/>
<path d="M3072 914A150 150 0 0 0 3161 866"/>
<path d="M3072 914A80 80 0 0 1 3116 895"/>
<path d="M3103 860A100 100 0 0 1 3161 866"/>
</g>
</g>
<g id="nodes">
<g id="n-critical-perspectives"><ellipse class="nb" cx="1166" cy="33" rx="10" ry="9"/><text x="1167" y="33" font-size="24.5" textLength="361" lengthAdjust="spacingAndGlyphs">critical perspectives on accou</text></g>
<g id="n-public-money-manage"><ellipse class="np" cx="1032" cy="321" rx="9" ry="8"/><text x="1033" y="320" font-size="24.5" textLength="278" lengthAdjust="spacingAndGlyphs">public money manage</text></g>
<g id="n-crit-perspect-accoun"><ellipse class="nb" cx="1179" cy="258" rx="22" ry="19"/><text x="1179" y="257" font-size="32.5" textLength="330" lengthAdjust="spacingAndGlyphs">crit perspect accoun</text></g>
<g id="n-accounting"><ellipse class="nb" cx="927" cy="279" rx="19" ry="16"/><text x="928" y="279" font-size="32" textLength="179" lengthAdjust="spacingAndGlyphs">accounting</text></g>
<g id="n-account-forum"><ellipse class="nb" cx="807" cy="375" rx="17" ry="15"/><text x="807" y="374" font-size="28.5" textLength="210" lengthAdjust="spacingAndGlyphs">account forum</text></g>
<g id="n-sustainability-accounting"><ellipse class="nb" cx="1515" cy="345" rx="10" ry="9"/><text x="1511" y="343" font-size="25" textLength="368" lengthAdjust="spacingAndGlyphs">sustainability accounting and</text></g>
<g id="n-accounting-auditing"><ellipse class="nb" cx="1225" cy="415" rx="9" ry="8"/><text x="1228" y="414" font-size="25" textLength="248" lengthAdjust="spacingAndGlyphs">accounting auditing</text></g>
<g id="n-manage-account-res"><ellipse class="nb" cx="1445" cy="574" rx="11" ry="9"/><text x="1445" y="572" font-size="26.5" textLength="273" lengthAdjust="spacingAndGlyphs">manage account res</text></g>
<g id="n-account-bus-res"><ellipse class="nb" cx="537" cy="611" rx="11" ry="9"/><text x="537" y="609" font-size="26.5" textLength="213" lengthAdjust="spacingAndGlyphs">account bus res</text></g>
<g id="n-j-intellect-cap"><ellipse class="np" cx="278" cy="494" rx="13" ry="11"/><text x="275" y="493" font-size="27.5" textLength="179" lengthAdjust="spacingAndGlyphs">j intellect cap</text></g>
<g id="n-integrated-reporting"><ellipse class="np" cx="518" cy="483" rx="7" ry="6"/><text x="518" y="482" font-size="24.5" textLength="251" lengthAdjust="spacingAndGlyphs">integrated reporting</text></g>
<g id="n-manag-audit-j"><ellipse class="np" cx="242" cy="659" rx="11" ry="9"/><text x="240" y="658" font-size="24.5" textLength="172" lengthAdjust="spacingAndGlyphs">manag audit j</text></g>
<g id="n-meditari-account-res"><ellipse class="np" cx="725" cy="650" rx="15" ry="13"/><text x="722" y="649" font-size="28.5" textLength="295" lengthAdjust="spacingAndGlyphs">meditari account res</text></g>
<g id="n-sustain-account-mana"><ellipse class="np" cx="1082" cy="716" rx="15" ry="13"/><text x="1082" y="715" font-size="28.5" textLength="314" lengthAdjust="spacingAndGlyphs">sustain account mana</text></g>
<g id="n-brit-account-rev"><ellipse class="np" cx="709" cy="801" rx="15" ry="13"/><text x="710" y="800" font-size="29" textLength="228" lengthAdjust="spacingAndGlyphs">brit account rev</text></g>
<g id="n-abacus"><ellipse class="nc" cx="154" cy="776" rx="12" ry="10"/><text x="155" y="775" font-size="24" textLength="86" lengthAdjust="spacingAndGlyphs">abacus</text></g>
<g id="n-aust-account-rev"><ellipse class="nc" cx="318" cy="791" rx="13" ry="11"/><text x="318" y="790" font-size="26.5" textLength="222" lengthAdjust="spacingAndGlyphs">aust account rev</text></g>
<g id="n-account-financ"><ellipse class="nc" cx="127" cy="846" rx="12" ry="10"/><text x="128" y="845" font-size="24.5" textLength="183" lengthAdjust="spacingAndGlyphs">account financ</text></g>
<g id="n-eur-account-rev"><ellipse class="ny" cx="659" cy="934" rx="11" ry="9"/><text x="660" y="933" font-size="26.5" textLength="208" lengthAdjust="spacingAndGlyphs">eur account rev</text></g>
<g id="n-j-account-public-pol"><ellipse class="ny" cx="323" cy="1020" rx="13" ry="11"/><text x="324" y="1020" font-size="26.5" textLength="256" lengthAdjust="spacingAndGlyphs">j account public pol</text></g>
<g id="n-yellow-unlabeled"><ellipse class="ny" cx="316" cy="1177" rx="10" ry="9"/></g>
<g id="n-auditing-j-pract-th"><ellipse class="ny" cx="140" cy="1196" rx="10" ry="9"/><text x="139" y="1195" font-size="25" textLength="224" lengthAdjust="spacingAndGlyphs">auditing-j pract th</text></g>
<g id="n-account-rev"><ellipse class="ny" cx="435" cy="1200" rx="18" ry="15"/><text x="436" y="1199" font-size="28.5" textLength="168" lengthAdjust="spacingAndGlyphs">account rev</text></g>
<g id="n-j-account-res"><ellipse class="ny" cx="277" cy="1320" rx="10" ry="9"/><text class="f" x="262" y="1335" font-size="22" textLength="150" lengthAdjust="spacingAndGlyphs">j account res</text></g>
<g id="n-j-account-econ"><ellipse class="ny" cx="400" cy="1310" rx="13" ry="11"/><text x="402" y="1308" font-size="26.5" textLength="193" lengthAdjust="spacingAndGlyphs">j account econ</text></g>
<g id="n-j-financ-econ"><ellipse class="ny" cx="572" cy="1386" rx="10" ry="9"/><text x="573" y="1386" font-size="24.5" textLength="158" lengthAdjust="spacingAndGlyphs">j financ econ</text></g>
<g id="n-corp-soc-resp-env-ma"><ellipse class="nr" cx="960" cy="1075" rx="18" ry="15"/><text x="960" y="1074" font-size="32" textLength="344" lengthAdjust="spacingAndGlyphs">corp soc resp env ma</text></g>
<g id="n-acad-manage-j"><ellipse class="nr" cx="1044" cy="1142" rx="12" ry="10"/><text x="1045" y="1140" font-size="27" textLength="198" lengthAdjust="spacingAndGlyphs">acad manage j</text></g>
<g id="n-soc-responsib-j"><ellipse class="nr" cx="1184" cy="924" rx="10" ry="9"/><text x="1186" y="923" font-size="24.5" textLength="186" lengthAdjust="spacingAndGlyphs">soc responsib j</text></g>
<g id="n-j-manage-stud"><ellipse class="nr" cx="1479" cy="911" rx="10" ry="9"/><text x="1479" y="910" font-size="24.5" textLength="175" lengthAdjust="spacingAndGlyphs">j manage stud</text></g>
<g id="n-red-unlabeled"><ellipse class="nr" cx="1261" cy="1041" rx="20" ry="17"/></g>
<g id="n-bus-strateg-environ"><ellipse class="nr" cx="1430" cy="1024" rx="22" ry="19"/><text x="1427" y="1021" font-size="32.5" textLength="316" lengthAdjust="spacingAndGlyphs">bus strateg environ</text></g>
<g id="n-bus-soc"><ellipse class="nr" cx="1574" cy="1057" rx="9" ry="8"/><text x="1577" y="1057" font-size="24" textLength="93" lengthAdjust="spacingAndGlyphs">bus soc</text></g>
<g id="n-harvard-bus-rev"><ellipse class="nr" cx="1419" cy="1113" rx="9" ry="8"/><text x="1419" y="1112" font-size="24.5" textLength="196" lengthAdjust="spacingAndGlyphs">harvard bus rev</text></g>
<g id="n-corp-gov-int-j-bus-s"><ellipse class="nr" cx="1238" cy="1212" rx="9" ry="8"/><text x="1240" y="1211" font-size="25" textLength="240" lengthAdjust="spacingAndGlyphs">corp gov-int j bus s</text></g>
<g id="n-strategic-manage-j"><ellipse class="nr" cx="1104" cy="1312" rx="11" ry="9"/><text x="1104" y="1311" font-size="27.5" textLength="250" lengthAdjust="spacingAndGlyphs">strategic manage j</text></g>
<g id="n-j-bus-res"><ellipse class="nr" cx="1300" cy="1342" rx="10" ry="9"/><text x="1301" y="1340" font-size="24.5" textLength="105" lengthAdjust="spacingAndGlyphs">j bus res</text></g>
<g id="n-business-strategy-envi"><ellipse class="nr" cx="1514" cy="715" rx="10" ry="9"/><text x="1513" y="714" font-size="25" textLength="380" lengthAdjust="spacingAndGlyphs">business strategy and the envi</text></g>
<g id="n-organ-stud"><ellipse class="nr" cx="1324" cy="749" rx="9" ry="8"/><text x="1324" y="748" font-size="24.5" textLength="133" lengthAdjust="spacingAndGlyphs">organ stud</text></g>
<g id="n-j-bus-ethics"><ellipse class="nr" cx="1045" cy="997" rx="36" ry="31"/><text x="1043" y="997" font-size="37.5" textLength="208" lengthAdjust="spacingAndGlyphs">j bus ethics</text></g>
<g id="n-account-org-soc"><ellipse class="nb" cx="1008" cy="584" rx="38" ry="32"/><text x="1006" y="585" font-size="36" textLength="290" lengthAdjust="spacingAndGlyphs">account org soc</text></g>
<g id="n-account-audit-accoun"><ellipse class="nb" cx="1098" cy="533" rx="42" ry="36"/><text x="1098" y="533" font-size="40" textLength="436" lengthAdjust="spacingAndGlyphs">account audit accoun</text></g>
<g id="n-sustainability-basel"><ellipse class="ng" cx="1954" cy="935" rx="16" ry="14"/><text x="1956" y="935" font-size="29.5" textLength="278" lengthAdjust="spacingAndGlyphs">sustainability-basel</text></g>
<g id="n-j-clean-prod"><ellipse class="ng" cx="2243" cy="893" rx="33" ry="29"/><text x="2243" y="889" font-size="37.5" textLength="223" lengthAdjust="spacingAndGlyphs">j clean prod</text></g>
<g id="n-j-environ-manage"><ellipse class="ng" cx="2686" cy="890" rx="11" ry="9"/><text x="2685" y="888" font-size="25" textLength="220" lengthAdjust="spacingAndGlyphs">j environ manage</text></g>
<g id="n-ecol-econ"><ellipse class="ng" cx="2819" cy="860" rx="19" ry="16"/><text x="2818" y="857" font-size="28.5" textLength="135" lengthAdjust="spacingAndGlyphs">ecol econ</text></g>
<g id="n-nature"><ellipse class="ng" cx="2921" cy="808" rx="9" ry="8"/><text x="2921" y="808" font-size="24" textLength="80" lengthAdjust="spacingAndGlyphs">nature</text></g>
<g id="n-science"><ellipse class="ng" cx="3002" cy="836" rx="10" ry="9"/><text x="3002" y="835" font-size="24" textLength="88" lengthAdjust="spacingAndGlyphs">science</text></g>
<g id="n-green-unlabeled-1"><ellipse class="ng" cx="3103" cy="860" rx="12" ry="10"/></g>
<g id="n-green-unlabeled-2"><ellipse class="ng" cx="3072" cy="914" rx="10" ry="9"/></g>
<g id="n-green-unlabeled-3"><ellipse class="ng" cx="3014" cy="909" rx="11" ry="10"/></g>
<g id="n-environ-sci-technol"><ellipse class="ng" cx="3116" cy="895" rx="9" ry="8"/><text class="f" x="3131" y="893" font-size="24" textLength="220" lengthAdjust="spacingAndGlyphs">environ sci technol</text></g>
<g id="n-energ-policy"><ellipse class="ng" cx="2947" cy="899" rx="11" ry="10"/><text x="2945" y="899" font-size="24.5" textLength="142" lengthAdjust="spacingAndGlyphs">energ policy</text></g>
<g id="n-ecol-model"><ellipse class="ng" cx="3161" cy="866" rx="14" ry="12"/><text x="3161" y="865" font-size="26.5" textLength="145" lengthAdjust="spacingAndGlyphs">ecol model</text></g>
</g>
</svg>
